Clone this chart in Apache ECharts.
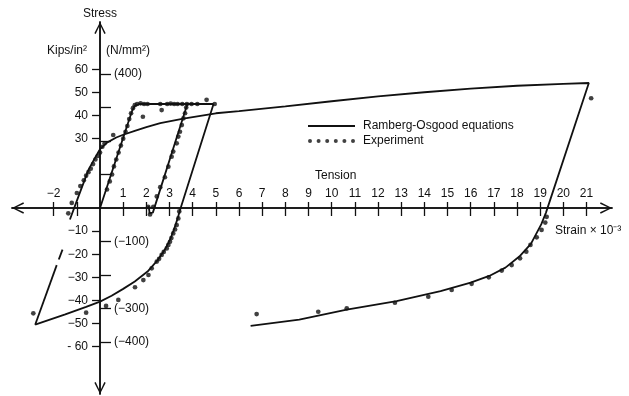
<!DOCTYPE html>
<html><head><meta charset="utf-8">
<script src="https://cdn.jsdelivr.net/npm/echarts@6/dist/echarts.min.js"></script>
<style>html,body{margin:0;padding:0;background:#fff}#c{width:629px;height:396px}</style>
</head><body><div id="c"></div>
<script>
// ---------- axis ticks & labels ----------
const xTickValues = [-2,-1,1,2,3,4,5,6,7,8,9,10,11,12,13,14,15,16,17,18,19,20,21];
const xLabelValues = [-2,1,2,3,4,5,6,7,8,9,10,11,12,13,14,15,16,17,18,19,20,21];
const xLabelText = ['\u22122','1','2','3','4','5','6','7','8','9','10','11','12','13','14','15','16','17','18','19','20','21'];
const ksiTickValues = [60,50,40,30,-10,-20,-30,-40,-50,-60];
const ksiLabelText = ['60','50','40','30','\u221210','\u221220','\u221230','\u221240','\u221250','- 60'];
const nmmTickValues = [400,300,200,100,-100,-200,-300,-400];
const nmmLabelValues = [400,-100,-300,-400];
const nmmLabelText = ['(400)','(\u2212100)','(\u2212300)','(\u2212400)'];
const KSI_TO_NMM = 6.895;

// ---------- Ramberg-Osgood curves (strain x10^-3, stress ksi) ----------
const roFirstLoading = [[0,0],[1.38,42],[1.5,44.2],[1.7,45],[4.9,45]];
const roUnloading = [[4.9,45],[3.45,-1],[3.35,-4.5],[3.22,-8.5],[3.05,-13],[2.8,-18],[2.45,-23],[2.05,-27.5],[1.5,-31.8],[1.0,-35],[0.5,-38],[0,-40.5],[-0.6,-42.8],[-1.5,-46],[-2.8,-50.5]];
const roReloadLower = [[-2.8,-50.5],[-1.87,-24.7]];
const roReloadMark = [[-1.78,-22.3],[-1.62,-18]];
const roReloadUpper = [[-1.3,-5],[-0.95,4.5],[-0.5,16.5],[-0.2,22],[0,25.5],[0.3,28.3],[0.7,30.5],[1,31.7],[1.5,33.4],[2,35],[2.6,36.7],[3.6,38.7],[5,41],[6,41.9],[8,44],[10,46.2],[12,48.3],[14,50.1],[16,51.7],[18,52.9],[20,53.7],[21.1,54.1],
  [19.25,-2],[19.05,-7],[18.6,-15.5],[18.1,-21],[17.5,-25.8],[16.8,-29.4],[16,-32.3],[14.7,-36],[12.8,-40.3],[10.65,-44],[8.6,-48.3],[6.5,-51]];
const roSecondLoading = [[2.1,0.8],[2.14,-2.2],[2.2,-3],[2.28,-2],[3.77,45]];

// ---------- Experiment points ----------
const expFirstLoading = [[0.3,8],[0.42,11.5],[0.52,14.5],[0.6,18],[0.7,21],[0.8,24],[0.9,27],[1.0,30],[1.1,33],[1.18,35.5],[1.26,38.5],[1.34,41],[1.42,43.2],[1.5,44.5]];
const expPlateau = [[1.6,45],[1.75,45.3],[1.9,45],[2.05,45],[1.85,39.5],[2.66,42.4],[2.6,45],[2.9,45],[3.05,45.2],[3.2,45],[3.35,45],[3.55,45],[3.75,45],[3.95,45],[4.2,45],[4.6,46.8],[4.95,45]];
const expSecondLoading = [[2.08,0.5],[2.16,-2.8],[2.3,0.5],[2.45,5],[2.6,9],[2.8,13.3],[2.95,17.9],[3.09,22.2],[3.16,24.4],[3.31,28],[3.38,30.9],[3.45,33],[3.53,35.9],[3.6,38.8],[3.67,41],[3.72,43.5]];
const expUnloading = [[3.42,-1.5],[3.38,-4.5],[3.31,-7.4],[3.24,-9.3],[3.16,-11],[3.08,-13],[3.02,-14.6],[2.95,-16],[2.88,-17.5],[2.75,-19],[2.66,-20.3],[2.55,-22],[2.45,-23.2],[2.23,-26.1],[2.09,-29],[1.87,-31.2],[1.51,-34.3],[0.79,-39.8],[0.26,-42.4],[-0.6,-45.3],[-2.88,-45.6]];
const expReloading = [[-1.37,-2.3],[-1.22,2.2],[-1.0,6.5],[-0.85,9.5],[-0.7,12],[-0.6,14],[-0.5,15.5],[-0.4,17],[-0.3,19],[-0.2,21],[-0.1,22.5],[0,24],[0.1,26.5],[0.2,28],[0.57,31.6]];
const expLargeCycle = [[21.2,47.5],[6.76,-45.9],[9.42,-44.9],[10.65,-43.4],[12.73,-41],[14.17,-38.4],[15.18,-35.5],[16.04,-32.8],[16.78,-30],[17.34,-27.1],[17.77,-24.7],[18.13,-21.8],[18.4,-18.9],[18.58,-16],[18.85,-12.7],[19.06,-9.5],[19.22,-6.3],[19.28,-3.8]];

const INK = '#111';
const FONT = 'Liberation Sans, Arial, sans-serif';
const Y_MIN = -80.5, Y_MAX = 80.5, X_MIN = -3.8, X_MAX = 22.1;
const GRID = {left: 12, top: 22, width: 600, height: 372};
// pixel offsets that move each axis from the grid edge onto the zero line of the other axis
const X0 = GRID.width * (0 - X_MIN) / (X_MAX - X_MIN);       // from left edge
const Y0 = GRID.height * (Y_MAX - 0) / (Y_MAX - Y_MIN);      // from top edge
const chevron = 'path://M0,12 L6,0 L12,12 L10.6,12.7 L6,3 L1.4,12.7 Z';

let dotsPath = 'path://';
for (let k = 0; k < 6; k++) { const cx = 2 + k * 8.6; dotsPath += 'M' + (cx - 2) + ',2 a2,2 0 1,0 4,0 a2,2 0 1,0 -4,0 '; }

const roName = 'Ramberg-Osgood equations';
const expName = 'Experiment';
const lineSeries = [roFirstLoading, roUnloading, roReloadLower, roReloadMark, roReloadUpper, roSecondLoading].map(d => ({
  type: 'line', name: roName, data: d, showSymbol: false, symbol: 'none', xAxisIndex: 0, yAxisIndex: 0,
  lineStyle: {color: INK, width: 1.8}, itemStyle: {color: INK}, silent: true, z: 3
}));
const dotSeries = [expFirstLoading, expPlateau, expSecondLoading, expUnloading, expReloading, expLargeCycle].map(d => ({
  type: 'scatter', name: expName, data: d, symbol: 'circle', symbolSize: 4.7, xAxisIndex: 0, yAxisIndex: 0,
  itemStyle: {color: INK}, silent: true, z: 4
}));

const chart = echarts.init(document.getElementById('c'), null, {renderer: 'canvas'});
const lineCommon = {show: true, onZero: false, lineStyle: {color: INK, width: 1.5}};
const arrowLine = Object.assign({}, lineCommon, {symbol: [chevron, chevron], symbolSize: [12, 12], symbolOffset: [6, -6]});
chart.setOption({
  animation: false,
  backgroundColor: '#fff',
  grid: Object.assign({containLabel: false, outerBoundsMode: 'none'}, GRID),
  legend: {
    left: 303, top: 114, orient: 'vertical', itemWidth: 47, itemHeight: 8, itemGap: 1,
    selectedMode: false,
    textStyle: {color: INK, fontFamily: FONT, fontSize: 12, lineHeight: 14, padding: [0,0,0,3]},
    data: [{name: roName, icon: 'path://M0,0 L47,0 L47,2 L0,2 Z'}, {name: expName, icon: dotsPath}]
  },
  xAxis: [
    {type: 'value', min: X_MIN, max: X_MAX, position: 'top', offset: -Y0,
     axisLine: arrowLine,
     axisTick: {show: true, length: 6, lineStyle: {color: INK, width: 1.3}, customValues: xTickValues},
     axisLabel: {show: true, margin: 8, color: INK, fontFamily: FONT, fontSize: 12, customValues: xLabelValues, hideOverlap: false,
       formatter: v => xLabelText[xLabelValues.indexOf(Math.round(v))] || ''},
     splitLine: {show: false}},
    {type: 'value', min: X_MIN, max: X_MAX, position: 'bottom', offset: -(GRID.height - Y0),
     axisLine: lineCommon,
     axisTick: {show: true, length: 8, lineStyle: {color: INK, width: 1.3}, customValues: xTickValues},
     axisLabel: {show: false}, splitLine: {show: false}}
  ],
  yAxis: [
    {type: 'value', min: Y_MIN, max: Y_MAX, position: 'left', offset: -X0,
     name: 'Stress', nameLocation: 'end', nameGap: 2,
     nameTextStyle: {color: INK, fontFamily: FONT, fontSize: 12, align: 'center'},
     axisLine: arrowLine,
     axisTick: {show: true, length: 8, lineStyle: {color: INK, width: 1.3}, customValues: ksiTickValues},
     axisLabel: {show: true, margin: 12, color: INK, fontFamily: FONT, fontSize: 12, customValues: ksiTickValues, hideOverlap: false,
       formatter: v => ksiLabelText[ksiTickValues.indexOf(Math.round(v))] || ''},
     splitLine: {show: false}},
    {type: 'value', min: Y_MIN * KSI_TO_NMM, max: Y_MAX * KSI_TO_NMM, position: 'right', offset: -(GRID.width - X0),
     axisLine: lineCommon,
     axisTick: {show: true, length: 11, lineStyle: {color: INK, width: 1.3}, customValues: nmmTickValues},
     axisLabel: {show: true, margin: 14, color: INK, fontFamily: FONT, fontSize: 12, customValues: nmmLabelValues, hideOverlap: false,
       formatter: v => nmmLabelText[nmmLabelValues.indexOf(Math.round(v))] || ''},
     splitLine: {show: false}}
  ],
  graphic: [
    {type: 'text', left: 47, top: 45, style: {text: 'Kips/in\u00b2', fill: INK, font: '12px ' + FONT}},
    {type: 'text', left: 106, top: 45, style: {text: '(N/mm\u00b2)', fill: INK, font: '12px ' + FONT}},
    {type: 'text', left: 315, top: 170, style: {text: 'Tension', fill: INK, font: '12px ' + FONT}},
    {type: 'text', left: 555, top: 225, style: {text: 'Strain \u00d7 10\u207b\u00b3', fill: INK, font: '12px ' + FONT}}
  ],
  series: lineSeries.concat(dotSeries)
});
</script></body></html>
